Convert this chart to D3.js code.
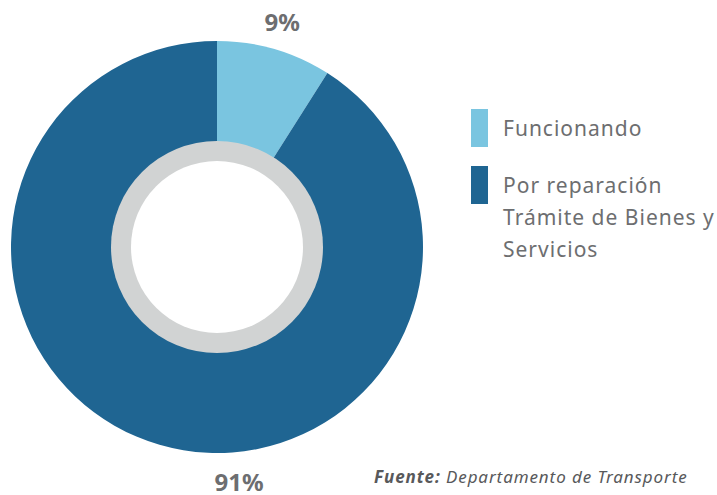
<!DOCTYPE html>
<html>
<head>
<meta charset="utf-8">
<script src="https://cdn.jsdelivr.net/npm/d3@7"></script>
<style>
  body { margin: 0; background: #fff; }
  text { font-family: "Noto Sans", sans-serif; }
</style>
</head>
<body>
<div id="chart"></div>
<script>
// data
var categories = ["Funcionando", "Por reparación Trámite de Bienes y Servicios"];
var values = [9, 91];
var pctLabels = ["9%", "91%"];
var legendLines = [["Funcionando"], ["Por reparación", "Trámite de Bienes y", "Servicios"]];

var width = 717,
  height = 495,
  cx = 217,
  cy = 247,
  radius = 206;

var color = d3.scaleOrdinal()
  .domain(categories)
  .range(["#7ac5e0", "#1f6592"]);

var svg = d3.select("#chart")
  .append("svg")
  .attr("width", width)
  .attr("height", height);

var g = svg.append("g")
  .attr("transform", "translate(" + cx + "," + cy + ")");

var pie = d3.pie()
  .sort(null)
  .value(function(d) { return d; });

var arc = d3.arc()
  .outerRadius(radius)
  .innerRadius(0);

var arcs = pie(values);

g.selectAll(".slice")
  .data(arcs)
  .enter()
  .append("path")
  .attr("class", "slice")
  .attr("d", arc)
  .style("fill", function(d, i) { return color(categories[i]); });

// gray ring and white hole in the middle
g.append("circle")
  .attr("r", 106)
  .style("fill", "#d1d3d3");
g.append("circle")
  .attr("r", 86)
  .style("fill", "#fff");

// percent labels
var labelArc = d3.arc()
  .outerRadius(radius + 28)
  .innerRadius(radius + 28);

g.selectAll(".pct")
  .data(arcs)
  .enter()
  .append("text")
  .attr("class", "pct")
  .attr("transform", function(d, i) {
    if (i == 0) return "translate(" + labelArc.centroid(d) + ")";
    // big slice label sits under the chart
    return "translate(22," + (radius + 30) + ")";
  })
  .attr("text-anchor", "middle")
  .attr("dy", "0.35em")
  .style("font-size", "24px")
  .style("font-weight", "bold")
  .style("fill", "#6d6e70")
  .text(function(d, i) { return pctLabels[i]; });

// legend
var legend = svg.selectAll(".legend")
  .data(categories)
  .enter()
  .append("g")
  .attr("class", "legend")
  .attr("transform", function(d, i) { return "translate(471," + (109 + i * 57) + ")"; });

legend.append("rect")
  .attr("width", 17)
  .attr("height", 38)
  .style("fill", function(d) { return color(d); });

legend.append("text")
  .attr("x", 32)
  .attr("y", 27)
  .style("font-size", "21px")
  .style("letter-spacing", "1px")
  .style("fill", "#6d6e70")
  .selectAll("tspan")
  .data(function(d, i) { return legendLines[i]; })
  .enter()
  .append("tspan")
  .attr("x", 32)
  .attr("dy", function(d, i) { return i == 0 ? 0 : 32; })
  .text(function(d) { return d; });

// source note
var note = svg.append("text")
  .attr("x", 374)
  .attr("y", 483)
  .style("font-size", "17px")
  .style("letter-spacing", "0.9px")
  .style("font-style", "italic")
  .style("fill", "#58595b");
note.append("tspan")
  .style("font-weight", "bold")
  .text("Fuente:");
note.append("tspan")
  .text(" Departamento de Transporte");
</script>
</body>
</html>
